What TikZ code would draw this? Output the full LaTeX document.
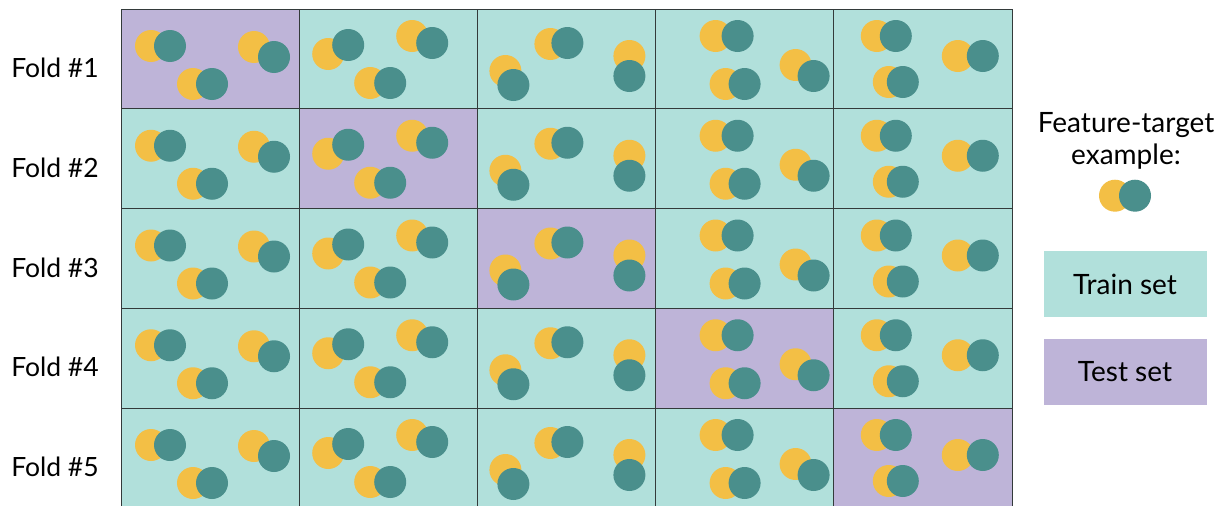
\documentclass[tikz,border=0pt]{standalone}
\usepackage{fontspec}
\setmainfont{Lato}
\definecolor{trainbg}{HTML}{B1E0DB}
\definecolor{testbg}{HTML}{BEB4D8}
\definecolor{ylw}{HTML}{F3BF45}
\definecolor{tl}{HTML}{4A8F8C}
\definecolor{gridc}{HTML}{333A3A}
\newcommand\ftpair[4]{%
  \fill[ylw] (#1,#2) circle[radius=16pt];
  \fill[tl] (#3,#4) circle[radius=16pt];}
\begin{document}
\begin{tikzpicture}[x=1pt,y=-1pt,
  lbl/.style={font=\fontsize{26.5}{30}\selectfont, anchor=center},
  legbox/.style={minimum width=163pt, minimum height=66pt, inner sep=0pt, font=\fontsize{28}{30}\selectfont}]
\useasboundingbox (0,0) rectangle (1227,506);
% cells
\foreach \r in {0,...,4}{
  \foreach \c in {0,...,4}{
    \pgfmathsetmacro\xo{121+178.2*\c}
    \pgfmathsetmacro\yo{9+99.75*\r}
    \ifnum\r=\c
      \fill[testbg] (\xo,\yo) rectangle ++(178.2,99.75);
    \else
      \fill[trainbg] (\xo,\yo) rectangle ++(178.2,99.75);
    \fi
    \begin{scope}[shift={(\xo pt,-\yo pt)}]
    \ifcase\c
      \ftpair{30}{37}{49}{37}\ftpair{133}{38}{153}{48}\ftpair{72}{75}{91}{75}
    \or
      \ftpair{29}{45}{49}{36}\ftpair{113}{27}{133}{34}\ftpair{71}{74}{91}{74}
    \or
      \ftpair{28}{62}{36}{76}\ftpair{73}{35}{90}{34}\ftpair{152}{47}{152}{67}
    \or
      \ftpair{60}{27}{82}{27}\ftpair{70}{75}{89}{75}\ftpair{140}{56}{158}{67}
    \or
      \ftpair{43}{27}{62}{27}\ftpair{55}{73}{69}{73}\ftpair{124}{47}{149}{47}
    \fi
    \end{scope}
  }
}
% grid lines
\foreach \c in {0,...,5}{
  \draw[gridc, line width=1pt] ({121+178.2*\c},9) -- ({121+178.2*\c},510);
}
\foreach \r in {0,...,5}{
  \draw[gridc, line width=1pt] (121,{9+99.75*\r}) -- (1012,{9+99.75*\r});
}
% labels
\foreach \r in {1,...,5}{
  \node[lbl] (fold\r) at (55,{68+99.75*(\r-1)}) {Fold \#\r};
}
% legend
\node[lbl, align=center, font=\fontsize{28}{32}\selectfont] (legtitle) at (1126,141) {Feature-target\\example:};
\fill[ylw] (1115,195.7) circle[radius=16pt];
\fill[tl] (1135,195.7) circle[radius=16pt];
\node[legbox, fill=trainbg] (train) at (1125,284) {Train set};
\node[legbox, fill=testbg] (test) at (1125,372) {Test set};
\end{tikzpicture}
\end{document}
